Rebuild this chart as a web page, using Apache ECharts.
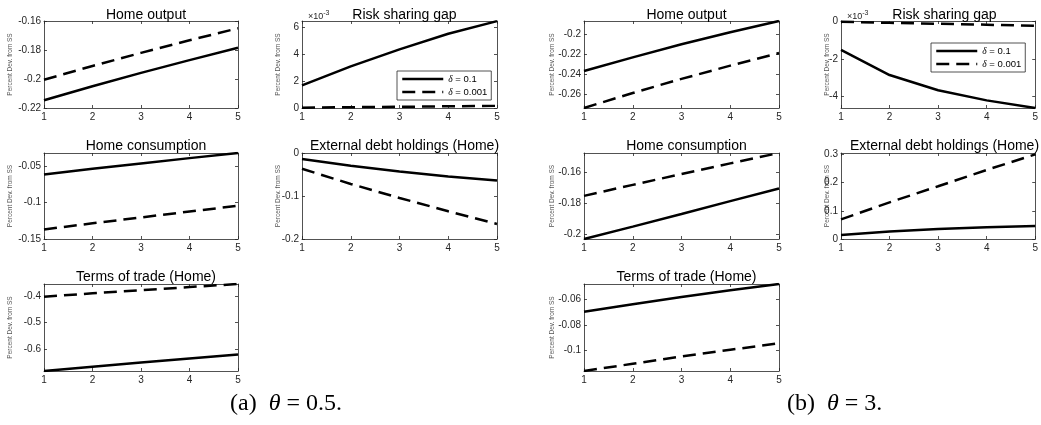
<!DOCTYPE html>
<html>
<head>
<meta charset="utf-8">
<script src="https://cdn.jsdelivr.net/npm/echarts@6/dist/echarts.min.js"></script>
<style>
  html, body { margin: 0; padding: 0; background: #fff; }
  #chart { width: 1041px; height: 425px; }
</style>
</head>
<body>
<div id="chart"></div>
<script>
// Impulse responses over periods 1..5, percent deviation from steady state.
const periods = [1, 2, 3, 4, 5];
const seriesNames = ['δ = 0.1', 'δ = 0.001'];

// theta = 0.5
const outputA_delta01 = [-0.2147, -0.2050, -0.1958, -0.1870, -0.1785];
const outputA_delta0001 = [-0.2005, -0.1910, -0.1820, -0.1733, -0.1650];
const gapA_delta01 = [0.00169, 0.00311, 0.00438, 0.00555, 0.00649];
const gapA_delta0001 = [0.00002, 0.00006, 0.00009, 0.00013, 0.00016];
const consA_delta01 = [-0.0617, -0.0540, -0.0467, -0.0394, -0.0324];
const consA_delta0001 = [-0.1369, -0.1285, -0.1205, -0.1125, -0.1045];
const debtA_delta01 = [-0.0140, -0.0295, -0.0430, -0.0545, -0.0640];
const debtA_delta0001 = [-0.0366, -0.0720, -0.1045, -0.1355, -0.1650];
const totA_delta01 = [-0.681, -0.665, -0.649, -0.634, -0.619];
const totA_delta0001 = [-0.4025, -0.3900, -0.3780, -0.3665, -0.3550];

// theta = 3
const outputB_delta01 = [-0.2365, -0.2230, -0.2100, -0.1980, -0.1869];
const outputB_delta0001 = [-0.2732, -0.2583, -0.2443, -0.2312, -0.2187];
const gapB_delta01 = [-0.00151, -0.00286, -0.00368, -0.00422, -0.00463];
const gapB_delta0001 = [0.0, -0.00006, -0.00011, -0.00016, -0.00022];
const consB_delta01 = [-0.2030, -0.1950, -0.1868, -0.1785, -0.1703];
const consB_delta0001 = [-0.1751, -0.1680, -0.1610, -0.1541, -0.1474];
const debtB_delta01 = [0.0140, 0.0265, 0.0355, 0.0415, 0.0460];
const debtB_delta0001 = [0.0694, 0.1300, 0.1870, 0.2450, 0.3000];
const totB_delta01 = [-0.0698, -0.0640, -0.0585, -0.0533, -0.0484];
const totB_delta0001 = [-0.1157, -0.1101, -0.1045, -0.0993, -0.0943];

// y tick values and axis limits
const ticksOutputA = [-0.22, -0.2, -0.18, -0.16];
const ticksGapA = [0, 0.002, 0.004, 0.006];
const ticksConsA = [-0.15, -0.1, -0.05];
const ticksDebtA = [-0.2, -0.1, 0];
const ticksTotA = [-0.6, -0.5, -0.4];
const ticksOutputB = [-0.26, -0.24, -0.22, -0.2];
const ticksGapB = [-0.004, -0.002, 0];
const ticksConsB = [-0.2, -0.18, -0.16];
const ticksDebtB = [0, 0.1, 0.2, 0.3];
const ticksTotB = [-0.1, -0.08, -0.06];

const limOutputA = [-0.22, -0.16];
const limGapA = [0, 0.0065];
const limConsA = [-0.15, -0.0324];
const limDebtA = [-0.2, 0];
const limTotA = [-0.681, -0.355];
const limOutputB = [-0.2732, -0.1869];
const limGapB = [-0.00463, 0.00004];
const limConsB = [-0.203, -0.1474];
const limDebtB = [0, 0.305];
const limTotB = [-0.1157, -0.0484];

const panelTitles = ['Home output', 'Risk sharing gap', 'Home consumption',
  'External debt holdings (Home)', 'Terms of trade (Home)'];

// layout of the subplot grid
const colLeft = [44, 302, 584, 841];
const colWidth = [194, 195, 195, 197];
const rowTop = [21, 153, 284];
const rowHeight = [87, 86, 87];
const nameGap = [30, 20, 28, 10];
const titleTop = [3, 134, 265];

const panels = [
  { t: 0, col: 0, row: 0, a: outputA_delta01, b: outputA_delta0001, ticks: ticksOutputA, lim: limOutputA },
  { t: 1, col: 1, row: 0, a: gapA_delta01, b: gapA_delta0001, ticks: ticksGapA, lim: limGapA, milli: true },
  { t: 2, col: 0, row: 1, a: consA_delta01, b: consA_delta0001, ticks: ticksConsA, lim: limConsA },
  { t: 3, col: 1, row: 1, a: debtA_delta01, b: debtA_delta0001, ticks: ticksDebtA, lim: limDebtA },
  { t: 4, col: 0, row: 2, a: totA_delta01, b: totA_delta0001, ticks: ticksTotA, lim: limTotA },
  { t: 0, col: 2, row: 0, a: outputB_delta01, b: outputB_delta0001, ticks: ticksOutputB, lim: limOutputB },
  { t: 1, col: 3, row: 0, a: gapB_delta01, b: gapB_delta0001, ticks: ticksGapB, lim: limGapB, milli: true },
  { t: 2, col: 2, row: 1, a: consB_delta01, b: consB_delta0001, ticks: ticksConsB, lim: limConsB },
  { t: 3, col: 3, row: 1, a: debtB_delta01, b: debtB_delta0001, ticks: ticksDebtB, lim: limDebtB },
  { t: 4, col: 2, row: 2, a: totB_delta01, b: totB_delta0001, ticks: ticksTotB, lim: limTotB }
];

const AXIS = '#262626';
const SANS = 'Liberation Sans, Arial, Helvetica, sans-serif';
const SERIF = 'Liberation Serif, DejaVu Serif, serif';
const DASH = [13, 7];

const grid = [], xAxis = [], yAxis = [], series = [], title = [];

function fmt(v, milli) {
  if (milli) return String(Math.round(v * 1e6) / 1e3);
  return String(Math.round(v * 1e6) / 1e6);
}

panels.forEach((p, i) => {
  const left = colLeft[p.col], top = rowTop[p.row];
  const w = colWidth[p.col], h = rowHeight[p.row];
  grid.push({ left: left, top: top, width: w, height: h, containLabel: false });

  const lineStyle = { color: AXIS, width: 0.8 };
  const tick = { show: true, inside: true, length: 3, lineStyle: { color: AXIS, width: 0.8 } };
  // bottom and top x axes (top one only draws the frame and mirrored ticks)
  xAxis.push({
    type: 'value', gridIndex: i, min: 1, max: 5, interval: 1, position: 'bottom',
    axisLine: { show: true, onZero: false, lineStyle },
    axisTick: tick, splitLine: { show: false },
    axisLabel: { color: AXIS, fontSize: 10, fontFamily: SANS, margin: 4 }
  });
  xAxis.push({
    type: 'value', gridIndex: i, min: 1, max: 5, interval: 1, position: 'top',
    axisLine: { show: true, onZero: false, lineStyle },
    axisTick: tick, splitLine: { show: false }, axisLabel: { show: false }
  });
  // left and right y axes
  yAxis.push({
    type: 'value', gridIndex: i, min: p.lim[0], max: p.lim[1], position: 'left',
    name: 'Percent Dev. from SS', nameLocation: 'middle', nameGap: nameGap[p.col], nameRotate: 90,
    nameMoveOverlap: false,
    nameTextStyle: { fontSize: 6.5, color: '#555', fontFamily: SANS },
    axisLine: { show: true, onZero: false, lineStyle },
    axisTick: Object.assign({}, tick, { customValues: p.ticks }),
    splitLine: { show: false },
    axisLabel: {
      customValues: p.ticks, color: AXIS, fontSize: 10, fontFamily: SANS, margin: 3,
      formatter: (v) => fmt(v, p.milli)
    }
  });
  yAxis.push({
    type: 'value', gridIndex: i, min: p.lim[0], max: p.lim[1], position: 'right',
    axisLine: { show: true, onZero: false, lineStyle },
    axisTick: Object.assign({}, tick, { customValues: p.ticks }),
    splitLine: { show: false }, axisLabel: { show: false }
  });

  [p.a, p.b].forEach((vals, k) => {
    series.push({
      type: 'line', name: seriesNames[k], xAxisIndex: 2 * i, yAxisIndex: 2 * i,
      data: periods.map((x, j) => [x, vals[j]]),
      symbol: 'none', smooth: false, clip: true,
      lineStyle: { color: '#000', width: 2.5, type: k === 0 ? 'solid' : DASH },
      itemStyle: { color: '#000' },
      z: 3
    });
  });

  title.push({
    text: panelTitles[p.t], left: left + w / 2, top: titleTop[p.row], textAlign: 'center',
    textStyle: { fontSize: 14, fontWeight: 'normal', color: '#000', fontFamily: SANS }
  });

  if (p.milli) {
    title.push({
      text: '×10{s|-3}', left: left + 1, top: top - 16,
      textStyle: {
        fontSize: 9, fontWeight: 'normal', color: AXIS, fontFamily: SANS,
        rich: { s: { fontSize: 7, color: AXIS, fontFamily: SANS, verticalAlign: 'top', padding: [0, 0, 6, 0] } }
      }
    });
  }
});

// sub-figure captions
function caption(text, left) {
  return {
    text: text, left: left, top: 392, padding: 0, textAlign: 'left',
    textStyle: { fontSize: 24, fontWeight: 'normal', color: '#000', fontFamily: SERIF,
      rich: { i: { fontSize: 24, fontStyle: 'italic', fontFamily: SERIF, color: '#000' } } }
  };
}
title.push(caption('(a)  {i|θ} = 0.5.', 230));
title.push(caption('(b)  {i|θ} = 3.', 787));

function legendAt(left, top) {
  return {
    data: seriesNames, left: left, top: top, orient: 'vertical',
    itemWidth: 41, itemHeight: 10, itemGap: 3, padding: [3, 4, 3, 4],
    borderColor: AXIS, borderWidth: 0.8, backgroundColor: '#fff',
    selectedMode: false,
    itemStyle: { opacity: 0 },
    lineStyle: { width: 2.5 },
    textStyle: {
      fontSize: 9.5, color: '#000', fontFamily: SANS,
      rich: { i: { fontSize: 9.5, fontStyle: 'italic', fontFamily: SERIF, color: '#000' } }
    },
    formatter: (n) => n.replace('δ', '{i|δ}')
  };
}

const chart = echarts.init(document.getElementById('chart'), null, { renderer: 'canvas' });
chart.setOption({
  animation: false,
  backgroundColor: '#fff',
  title: title,
  legend: [legendAt(397, 71), legendAt(931, 43)],
  grid: grid,
  xAxis: xAxis,
  yAxis: yAxis,
  series: series
});
</script>
</body>
</html>
